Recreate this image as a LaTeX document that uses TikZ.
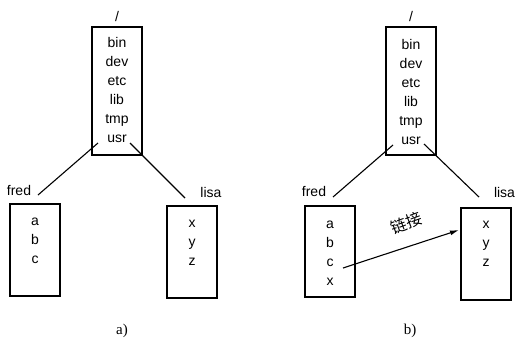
\documentclass[tikz,border=0pt]{standalone}
\usepackage{fontspec}
\setmainfont{Liberation Sans}
\newfontfamily\capfont{Liberation Serif}
\newfontfamily\cjk{Noto Sans CJK SC}
\usetikzlibrary{arrows.meta,positioning}

\begin{document}
\begin{tikzpicture}[x=1pt, y=-1pt, line width=1.1pt,
  every node/.style={font=\fontsize{14}{19}\selectfont, inner sep=0pt},
  dirbox/.style={draw, minimum width=50pt},
  entries/.style={align=center, anchor=base},
  dirname/.style={anchor=base}]
  \useasboundingbox (0,0) rectangle (516,343);

  % a) two separate directories
  \node[dirbox, minimum height=128pt] (rootA) at (117,91) {};
  \node[entries] (rootA-list) at (117,142) {bin\\dev\\etc\\lib\\tmp\\usr};
  \node[dirname] (slashA) at (117,21) {/};

  \node[dirbox, minimum height=92pt] (fredA) at (35,250) {};
  \node[entries] (fredA-list) at (35,263) {a\\b\\c};
  \node[dirname] (fredA-name) at (19,195) {fred};

  \node[dirbox, minimum height=92pt] (lisaA) at (192,252) {};
  \node[entries] (lisaA-list) at (192,265) {x\\y\\z};
  \node[dirname] (lisaA-name) at (211,197) {lisa};

  \coordinate (usrA-l) at (98,143);
  \coordinate (usrA-r) at (130,143);
  \coordinate (fredA-top) at (38,195);
  \coordinate (lisaA-top) at (185,198);
  \draw (usrA-l) -- (fredA-top);
  \draw (usrA-r) -- (lisaA-top);

  \node[font=\capfont\fontsize{15}{16}\selectfont] (capA) at (122,331) {a)};

  % b) after linking x into fred
  \node[dirbox, minimum height=128pt] (rootB) at (411,91) {};
  \node[entries] (rootB-list) at (411,144) {bin\\dev\\etc\\lib\\tmp\\usr};
  \node[dirname] (slashB) at (411,21) {/};

  \node[dirbox, minimum height=91pt] (fredB) at (330,251.5) {};
  \node[entries] (fredB-list) at (330,285) {a\\b\\c\\x};
  \node[dirname] (fredB-name) at (314,196) {fred};

  \node[dirbox, minimum height=92pt] (lisaB) at (486,254) {};
  \node[entries] (lisaB-list) at (486,266) {x\\y\\z};
  \node[dirname] (lisaB-name) at (504.5,197) {lisa};

  \coordinate (usrB-l) at (393,145);
  \coordinate (usrB-r) at (424,144);
  \coordinate (fredB-top) at (333,197);
  \coordinate (lisaB-top) at (479,197);
  \draw (usrB-l) -- (fredB-top);
  \draw (usrB-r) -- (lisaB-top);

  \coordinate (link-from) at (343,268);
  \coordinate (link-to) at (459,230);
  \draw[-{Latex[length=9pt,width=5pt]}] (link-from) -- (link-to);
  \node[font=\cjk\fontsize{16}{18}\selectfont, rotate=20] (linkname) at (406,223) {链接};

  \node[font=\capfont\fontsize{15}{16}\selectfont] (capB) at (410,331) {b)};
\end{tikzpicture}
\end{document}
